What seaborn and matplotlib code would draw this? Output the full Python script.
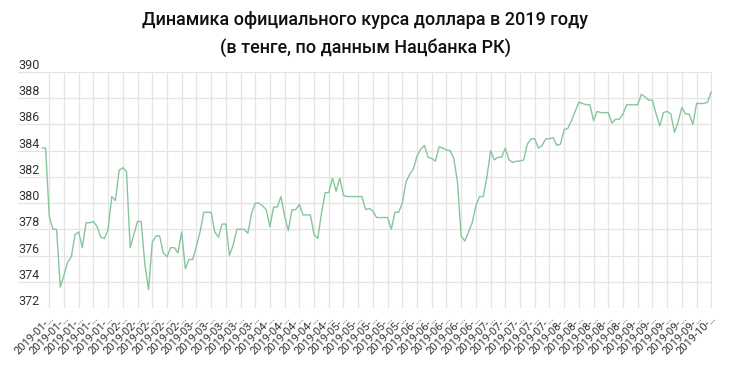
import matplotlib
matplotlib.use("Agg")
import matplotlib.pyplot as plt
import seaborn as sns
import numpy as np

# official USD/KZT rate, one value per point on the x axis
rate = [
    384.2, 384.2, 379.0, 378.0, 378.0, 373.6, 374.5, 375.5, 375.9, 377.6,
    377.8, 376.6, 378.5, 378.5, 378.6, 378.2, 377.4, 377.3, 378.0, 380.5,
    380.2, 382.5, 382.7, 382.4, 376.6, 377.6, 378.6, 378.6, 375.3, 373.4,
    377.0, 377.5, 377.5, 376.2, 375.9, 376.6, 376.6, 376.2, 377.8, 375.0,
    375.7, 375.7, 376.7, 377.8, 379.3, 379.3, 379.3, 377.8, 377.4, 378.4,
    378.4, 376.0, 376.8, 378.0, 378.0, 378.0, 377.7, 379.2, 380.0, 380.0,
    379.8, 379.5, 378.2, 379.7, 379.7, 380.5, 379.0, 377.9, 379.5, 379.5,
    379.9, 379.1, 379.1, 379.1, 377.6, 377.3, 379.2, 380.8, 380.8, 381.9,
    380.9, 381.9, 380.6, 380.5, 380.5, 380.5, 380.5, 380.5, 379.5, 379.6,
    379.4, 378.9, 378.9, 378.9, 378.9, 378.0, 379.3, 379.3, 380.0, 381.6,
    382.2, 382.6, 383.6, 384.1, 384.4, 383.5, 383.4, 383.2, 384.3, 384.2,
    384.05, 384.0, 383.4, 381.6, 377.5, 377.1, 377.8, 378.5, 379.8, 380.5,
    380.5, 382.0, 384.0, 383.3, 383.5, 383.5, 384.2, 383.3, 383.1, 383.2,
    383.2, 383.3, 384.5, 384.9, 384.9, 384.2, 384.4, 384.9, 384.9, 385.0,
    384.4, 384.5, 385.6, 385.7, 386.3, 387.0, 387.7, 387.6, 387.5, 387.5,
    386.3, 387.0, 386.9, 386.9, 386.9, 386.1, 386.4, 386.4, 386.8, 387.5,
    387.5, 387.5, 387.5, 388.3, 388.1, 387.85, 387.85, 386.8, 385.9, 386.9,
    387.0, 386.8, 385.4, 386.2, 387.3, 386.8, 386.8, 386.0, 387.6, 387.6,
    387.6, 387.7, 388.5,
]

# month of each labelled tick (labels are cut off in the original)
tick_months = (["01"] * 5 + ["02"] * 5 + ["03"] * 5 + ["04"] * 5 + ["05"] * 5
               + ["06"] * 5 + ["07"] * 5 + ["08"] * 5 + ["09"] * 5 + ["10"])
tick_labels = ["2019-" + m + "-…" for m in tick_months]
y_ticks = [372, 374, 376, 378, 380, 382, 384, 386, 388, 390]

idx = np.arange(len(rate))
tick_pos = idx[2::4]

sns.set_style("white")
plt.rcParams["font.family"] = ["Roboto", "DejaVu Sans"]

fig = plt.figure(figsize=(7.3, 3.65), dpi=100)
ax = fig.add_axes([18 / 730, 1 - 308 / 365, (712 - 18) / 730, (308 - 72) / 365])

sns.lineplot(x=idx, y=rate, ax=ax, color="#86c69c", linewidth=1.0)

ax.set_xlim(-6.5, 182.2)
ax.set_ylim(372, 390)
ax.set_xticks(tick_pos)
ax.set_xticklabels(tick_labels, rotation=45, ha="right", rotation_mode="anchor",
                   fontsize=8, color="#333333")
ax.set_yticks(y_ticks)
ax.set_yticklabels([str(v) for v in y_ticks], fontsize=9, color="#333333")
for lab in ax.get_yticklabels():
    lab.set_horizontalalignment("left")
    lab.set_verticalalignment("bottom")
ax.tick_params(axis="y", length=0, pad=0)
ax.tick_params(axis="x", length=0, pad=4)

ax.grid(True, color="#e4e4e4", linewidth=0.9)
ax.set_axisbelow(True)
for s in ax.spines.values():
    s.set_visible(False)
ax.set_xlabel("")
ax.set_ylabel("")

fig.text(0.5, 1 - 20 / 365, "Динамика официального курса доллара в 2019 году",
         ha="center", va="center", fontsize=13, fontweight="medium", color="#111111")
fig.text(0.5, 1 - 48 / 365, "(в тенге, по данным Нацбанка РК)",
         ha="center", va="center", fontsize=13, fontweight="medium", color="#111111")

fig.savefig("out.png", dpi=100)
